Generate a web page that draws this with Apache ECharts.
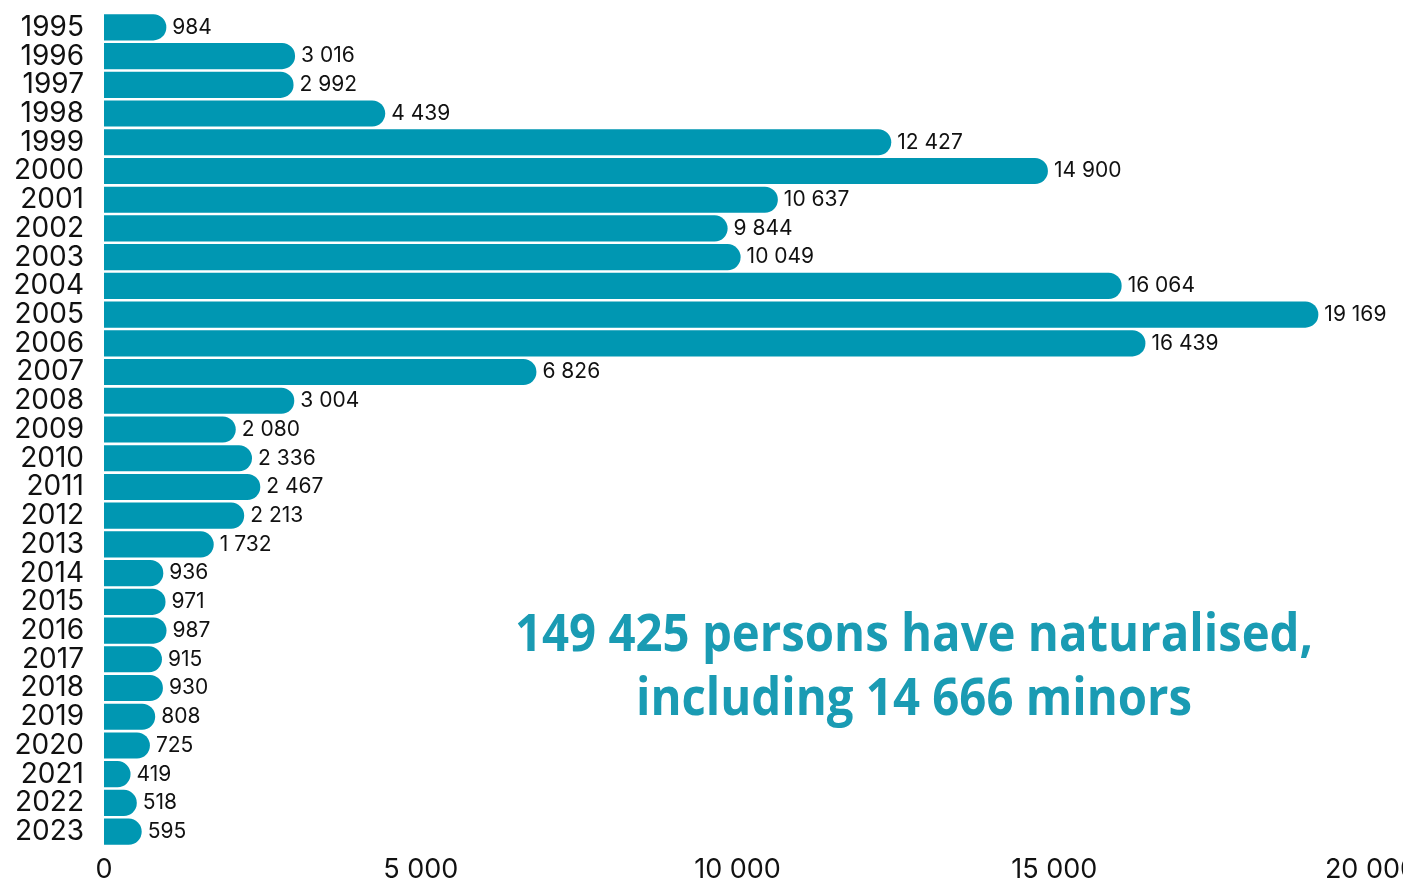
<!DOCTYPE html>
<html>
<head>
<meta charset="utf-8">
<script src="https://cdn.jsdelivr.net/npm/echarts@6/dist/echarts.min.js"></script>
<style>
  html, body { margin: 0; padding: 0; background: #ffffff; }
  #chart { width: 1403px; height: 881px; }
</style>
</head>
<body>
<div id="chart"></div>
<script>
// Naturalisations per year
const years = ['1995','1996','1997','1998','1999','2000','2001','2002','2003','2004',
  '2005','2006','2007','2008','2009','2010','2011','2012','2013','2014',
  '2015','2016','2017','2018','2019','2020','2021','2022','2023'];
const naturalisations = [984, 3016, 2992, 4439, 12427, 14900, 10637, 9844, 10049, 16064,
  19169, 16439, 6826, 3004, 2080, 2336, 2467, 2213, 1732, 936,
  971, 987, 915, 930, 808, 725, 419, 518, 595];
const xTicks = [0, 5000, 10000, 15000, 20000];
const noteLines = ['149 425 persons have naturalised,', 'including 14 666 minors'];

const barColor = '#0097b2';
const fmt = v => String(v).replace(/\B(?=(\d{3})+(?!\d))/g, ' ');

const chart = echarts.init(document.getElementById('chart'));
chart.setOption({
  animation: false,
  grid: { left: 104, right: 32, top: 13, bottom: 35, containLabel: false, outerBoundsMode: 'none' },
  xAxis: {
    type: 'value',
    min: xTicks[0],
    max: xTicks[xTicks.length - 1],
    interval: 5000,
    axisLine: { show: false },
    axisTick: { show: false },
    splitLine: { show: false },
    axisLabel: {
      margin: 10,
      color: '#111',
      fontFamily: 'Inter',
      fontSize: 27,
      hideOverlap: false,
      formatter: v => fmt(v)
    }
  },
  yAxis: {
    type: 'category',
    data: years,
    inverse: true,
    axisLine: { show: false },
    axisTick: { show: false },
    axisLabel: {
      interval: 0,
      margin: 20,
      color: '#111',
      fontFamily: 'Inter',
      fontSize: 28
    }
  },
  series: [{
    type: 'bar',
    data: naturalisations,
    barCategoryGap: '9%',
    itemStyle: { color: barColor, borderRadius: [0, 13, 13, 0] },
    label: {
      show: true,
      position: 'right',
      distance: 6,
      color: '#111',
      fontFamily: 'Inter',
      fontSize: 21,
      formatter: p => fmt(p.value)
    }
  }],
  graphic: noteLines.map((line, i) => ({
    type: 'text',
    x: 914,
    y: 636 + i * 64,
    scaleX: 0.91,
    style: {
      text: line,
      textAlign: 'center',
      textVerticalAlign: 'middle',
      fill: '#1a9bb3',
      font: 'bold 52px "Open Sans"',
      textShadowColor: 'rgba(150,140,190,0.55)',
      textShadowOffsetX: 2,
      textShadowOffsetY: 3,
      textShadowBlur: 0
    }
  }))
});
</script>
</body>
</html>
